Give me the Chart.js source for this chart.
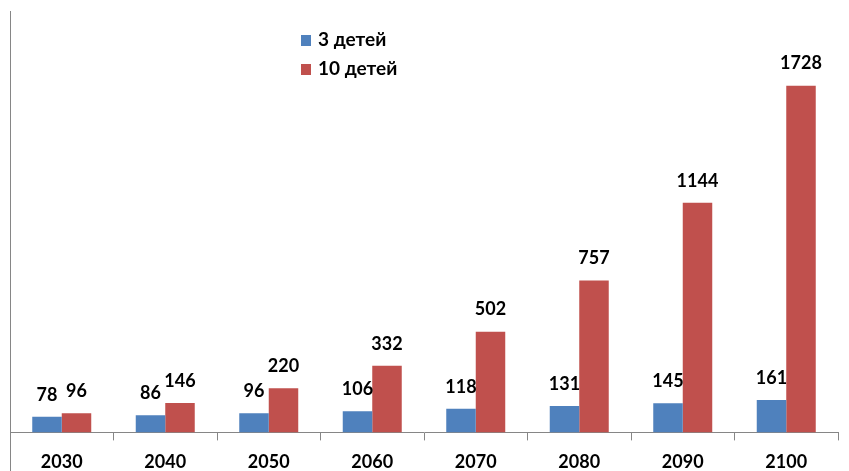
<!DOCTYPE html>
<html>
<head>
<meta charset="utf-8">
<script src="https://cdn.jsdelivr.net/npm/chart.js@4"></script>
<style>
  html, body { margin: 0; padding: 0; background: #fff; }
  #wrap { width: 849px; height: 471px; position: relative; }
</style>
</head>
<body>
<div id="wrap"><canvas id="chart"></canvas></div>
<script>
const years = ['2030', '2040', '2050', '2060', '2070', '2080', '2090', '2100'];
const threeKids = [78, 86, 96, 106, 118, 131, 145, 161];
const tenKids = [96, 146, 220, 332, 502, 757, 1144, 1728];
const seriesNames = ['3 детей', '10 детей'];
const colors = ['#4F81BD', '#C0504D'];

const fontFamily = 'Lato, "Open Sans", sans-serif';

// value labels above bars + left frame line + legend inside plot
const extras = {
    id: 'extras',
    afterDatasetsDraw(chart) {
        const ctx = chart.ctx;
        const area = chart.chartArea;
        ctx.save();

        // left frame line
        ctx.strokeStyle = '#868686';
        ctx.lineWidth = 1;
        ctx.beginPath();
        ctx.moveTo(area.left + 0.5, area.top);
        ctx.lineTo(area.left + 0.5, chart.height);
        ctx.stroke();

        // data labels
        ctx.fillStyle = '#000';
        ctx.font = 'bold 18px ' + fontFamily;
        ctx.textAlign = 'center';
        ctx.textBaseline = 'middle';
        chart.data.datasets.forEach((ds, i) => {
            chart.getDatasetMeta(i).data.forEach((bar, j) => {
                ctx.fillText(String(ds.data[j]), bar.x, bar.y - 22);
            });
        });

        // legend
        ctx.font = 'bold 19px ' + fontFamily;
        ctx.textAlign = 'left';
        seriesNames.forEach((name, i) => {
            const y = 40 + i * 29;
            ctx.fillStyle = colors[i];
            ctx.fillRect(301, y - 5, 10, 11);
            ctx.fillStyle = '#000';
            ctx.fillText(name, 318, y);
        });
        ctx.restore();
    }
};

new Chart(document.getElementById('chart'), {
    type: 'bar',
    data: {
        labels: years,
        datasets: [
            { label: seriesNames[0], data: threeKids, backgroundColor: colors[0] },
            { label: seriesNames[1], data: tenKids, backgroundColor: colors[1] }
        ]
    },
    options: {
        responsive: true,
        maintainAspectRatio: false,
        animation: false,
        datasets: {
            bar: { categoryPercentage: 0.57, barPercentage: 1.0 }
        },
        layout: { padding: { top: 11, left: 10, right: 11, bottom: -13 } },
        scales: {
            x: {
                grid: {
                    offset: true,
                    drawOnChartArea: false,
                    drawTicks: true,
                    tickLength: 8,
                    color: '#868686'
                },
                border: { color: '#868686', width: 1 },
                ticks: {
                    color: '#000',
                    padding: 11,
                    font: { family: fontFamily, size: 18, weight: 'bold' }
                }
            },
            y: {
                display: false,
                min: 0,
                max: 2100
            }
        },
        plugins: {
            legend: { display: false },
            tooltip: { enabled: false }
        }
    },
    plugins: [extras]
});
</script>
</body>
</html>
